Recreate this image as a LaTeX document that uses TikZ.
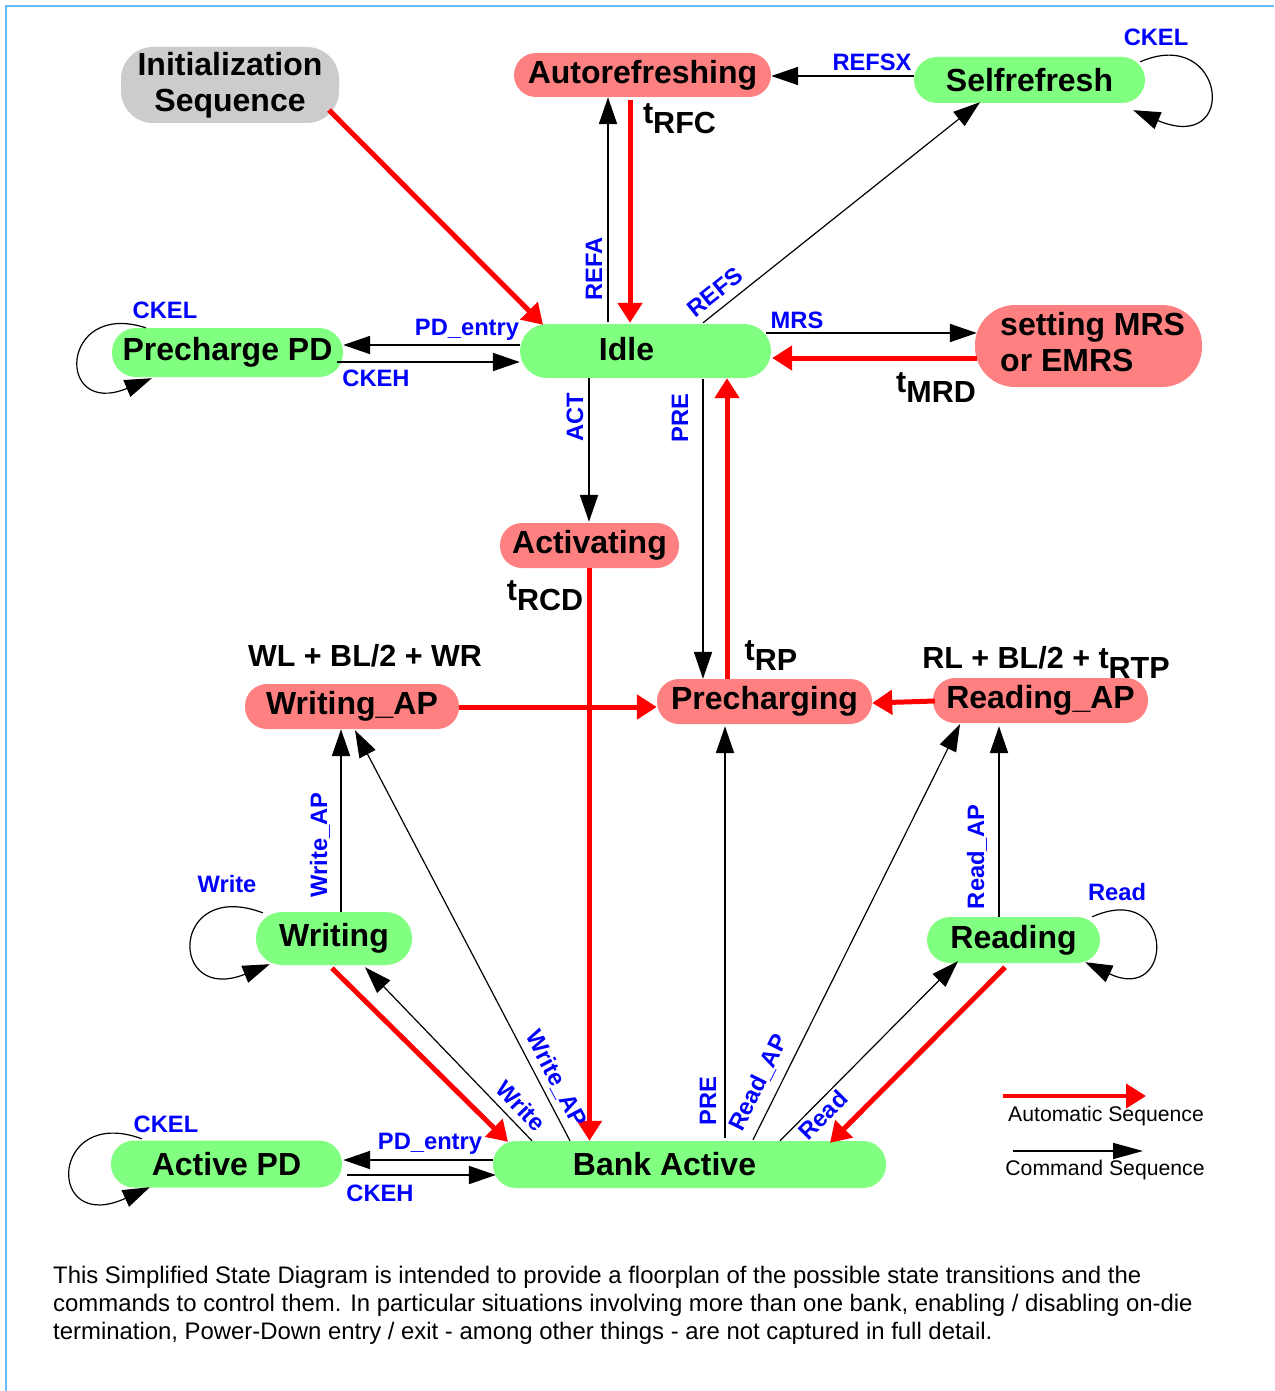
\documentclass[tikz,border=0pt]{standalone}
\usepackage{fontspec}
\setmainfont{Liberation Sans}
\usetikzlibrary{arrows.meta}
\definecolor{stgreen}{HTML}{80FF80}
\definecolor{stpink}{HTML}{FF8080}
\definecolor{stgray}{HTML}{CCCCCC}
\definecolor{frameblue}{HTML}{66BBFF}
\begin{document}
\begin{tikzpicture}[x=1pt,y=-1pt,
  box/.style={inner sep=0pt, font=\bfseries\fontsize{32}{36}\selectfont, align=center},
  grn/.style={box, fill=stgreen},
  pnk/.style={box, fill=stpink},
  gry/.style={box, fill=stgray},
  title/.style={inner sep=0pt, font=\bfseries\fontsize{32}{36}\selectfont},
  lbl/.style={inner sep=0pt, font=\bfseries\fontsize{23.7}{26}\selectfont, text=blue},
  tim/.style={inner sep=0pt, font=\bfseries\fontsize{30.5}{34}\selectfont},
  cmd/.style={line width=2pt, -{Triangle[length=27pt,width=18pt]}},
  cmdthin/.style={line width=1.2pt, -{Triangle[length=27pt,width=18pt]}},
  autoseq/.style={draw=red, line width=5pt, -{Triangle[length=20pt,width=24pt]}},
  legtxt/.style={inner sep=0pt, font=\fontsize{21.2}{25}\selectfont}
]
\useasboundingbox (0,0) rectangle (1274,1391);
\draw[frameblue, line width=1.2pt] (6,1391) -- (6,6) -- (1274,6);

% nodes
\node[gry, minimum width=218pt, minimum height=76pt, rounded corners=32pt] (init) at (230,85) {Initialization\\Sequence};
\node[pnk, minimum width=257pt, minimum height=44pt, rounded corners=22pt] (auto) at (642.5,75) {Autorefreshing};
\node[grn, minimum width=231pt, minimum height=46pt, rounded corners=23pt] (self) at (1029.5,80) {Selfrefresh};
\node[grn, minimum width=231pt, minimum height=49pt, rounded corners=24pt] (ppd) at (227.5,352.5) {Precharge PD};
\node[grn, minimum width=251pt, minimum height=54pt, rounded corners=27pt] (idle) at (645.5,351) {};
\node[title] at ([shift={(-19,-2)}]idle.center) {Idle};
\node[pnk, minimum width=227pt, minimum height=82pt, rounded corners=40pt] (mrs) at (1088.5,346) {};
\node[title, anchor=west, align=left] at (1000,342) {setting MRS\\or EMRS};
\node[pnk, minimum width=179pt, minimum height=45pt, rounded corners=22pt] (act) at (589.5,545.5) {Activating};
\node[pnk, minimum width=214pt, minimum height=45pt, rounded corners=22pt] (wap) at (352,706.5) {Writing\_AP};
\node[pnk, minimum width=215pt, minimum height=45pt, rounded corners=22pt] (pchg) at (764.5,701.5) {Precharging};
\node[pnk, minimum width=215pt, minimum height=45pt, rounded corners=22pt] (rap) at (1040.5,700.5) {Reading\_AP};
\node[grn, minimum width=156pt, minimum height=53pt, rounded corners=26pt] (wr) at (334,938.5) {Writing};
\node[grn, minimum width=173pt, minimum height=46pt, rounded corners=23pt] (rd) at (1013.5,940) {Reading};
\node[grn, minimum width=231pt, minimum height=47pt, rounded corners=23pt] (apd) at (226.5,1164) {Active PD};
\node[grn, minimum width=393pt, minimum height=47pt, rounded corners=23pt] (bank) at (689.5,1164.5) {};
\node[title] at ([shift={(-25,0)}]bank.center) {Bank Active};

% connectors
\draw[autoseq] ([shift={(99,25)}]init.center) -- ([shift={(-102.5,1)}]idle.north);
\draw[cmd] ([shift={(-37.5,-2)}]idle.north) -- ([shift={(-34.5,0)}]auto.south);
\node[lbl, rotate=90] at (594,269) {REFA};
\draw[autoseq] ([shift={(-12.5,3)}]auto.south) -- ([shift={(-15.5,-1)}]idle.north);
\node[tim] at (679.5,119) {t\raisebox{-10pt}{RFC}};
\draw[cmd] ([shift={(0,-4)}]self.west) -- ([shift={(0,1)}]auto.east);
\node[lbl] at (872,62) {REFSX};
\draw[cmdthin] ([shift={(57.5,-1)}]idle.north) -- ([shift={(-49.5,-1)}]self.south);
\node[lbl, rotate=38.6] at (715,292) {REFS};
\draw[cmdthin] ([shift={(-5,5)}]self.north east) .. controls +(85,-37) and +(107,45) .. ([shift={(-12,7)}]self.south east);
\node[lbl] at (1156,37) {CKEL};

\draw[cmd] ([shift={(0,-6)}]idle.west) -- ([shift={(0,-7.5)}]ppd.east);
\node[lbl] at (467,330) {PD\_entry};
\draw[cmd] ([shift={(-6,9.5)}]ppd.east) -- ([shift={(0,11)}]idle.west);
\node[lbl] at (376,378) {CKEH};
\draw[cmdthin] ([shift={(34,0)}]ppd.north west) .. controls +(-86,-28) and +(-97,40) .. ([shift={(40,1)}]ppd.south west);
\node[lbl] at (165,310) {CKEL};

\draw[cmd] ([shift={(-5,-18)}]idle.east) -- ([shift={(2,-13)}]mrs.west);
\node[lbl] at (797,320) {MRS};
\draw[autoseq] ([shift={(2,12)}]mrs.west) -- ([shift={(1,7)}]idle.east);
\node[tim] at (936,388) {t\raisebox{-10pt}{MRD}};

\draw[cmd] ([shift={(-56.5,0)}]idle.south) -- ([shift={(-0.5,-1)}]act.north);
\node[lbl, rotate=90] at (575,417) {ACT};
\draw[cmd] ([shift={(57.5,1)}]idle.south) -- ([shift={(-61.5,0)}]pchg.north);
\node[lbl, rotate=90] at (680,418) {PRE};
\draw[autoseq] ([shift={(-37.5,0)}]pchg.north) -- ([shift={(81.5,0)}]idle.south);
\node[tim] at (771,656) {t\raisebox{-10pt}{RP}};
\draw[autoseq] (act.south) -- ([shift={(-100,0)}]bank.north);
\node[tim] at (545,596) {t\raisebox{-10pt}{RCD}};

\draw[autoseq] ([shift={(0,0.5)}]wap.east) -- ([shift={(0,5.5)}]pchg.west);
\draw[autoseq] ([shift={(2,0.5)}]rap.west) -- ([shift={(0,1.5)}]pchg.east);
\node[tim] at (365,656) {WL + BL/2 + WR};
\node[tim] at (1046,662) {RL + BL/2 + t\raisebox{-10pt}{RTP}};

\draw[cmd] ([shift={(7,0)}]wr.north) -- ([shift={(-11,0)}]wap.south);
\node[lbl, rotate=90] at (320,845) {Write\_AP};
\draw[cmdthin] ([shift={(-119.5,0)}]bank.north) -- ([shift={(3,1)}]wap.south);
\node[lbl, rotate=-62.4] at (556,1079) {Write\_AP};
\draw[cmdthin] ([shift={(-157.5,0)}]bank.north) -- ([shift={(31,2)}]wr.south);
\node[lbl, rotate=-46.2] at (521,1106) {Write};
\draw[autoseq] ([shift={(-2,3)}]wr.south) -- ([shift={(-181.5,1)}]bank.north);
\draw[cmdthin] ([shift={(7,1)}]wr.north west) .. controls +(-93,-35) and +(-102,41) .. ([shift={(14,-1)}]wr.south west);
\node[lbl] at (227,884) {Write};

\draw[cmd] ([shift={(35.5,-3)}]bank.north) -- ([shift={(-39.5,2)}]pchg.south);
\node[lbl, rotate=90] at (708,1101) {PRE};
\draw[cmdthin] ([shift={(63.5,-1)}]bank.north) -- ([shift={(-80.5,1)}]rap.south);
\node[lbl, rotate=63.5] at (759,1083) {Read\_AP};
\draw[cmdthin] ([shift={(90.5,0)}]bank.north) -- ([shift={(-55.5,-2)}]rd.south);
\node[lbl, rotate=45.3] at (823,1115) {Read};
\draw[autoseq] ([shift={(-8.5,4)}]rd.south) -- ([shift={(140.5,2)}]bank.north);
\draw[cmd] ([shift={(-14.5,0)}]rd.north) -- ([shift={(-41.5,3)}]rap.south);
\node[lbl, rotate=90] at (977,857) {Read\_AP};
\draw[cmdthin] ([shift={(-8,0)}]rd.north east) .. controls +(83,-37) and +(90,43) .. ([shift={(-15,-1)}]rd.south east);
\node[lbl] at (1117,892) {Read};

\draw[cmd] ([shift={(0,-4.5)}]bank.west) -- ([shift={(1,-4)}]apd.east);
\node[lbl] at (430,1144) {PD\_entry};
\draw[cmd] ([shift={(5,11)}]apd.east) -- ([shift={(3,10.5)}]bank.west);
\node[lbl] at (380,1193) {CKEH};
\draw[cmdthin] ([shift={(31,-1.5)}]apd.north west) .. controls +(-92,-34) and +(-105,48) .. ([shift={(39,-0.5)}]apd.south west);
\node[lbl] at (166,1124) {CKEL};

% legend
\coordinate (la1) at (1003,1096);
\coordinate (la2) at (1146,1096);
\coordinate (lc1) at (1013,1151);
\coordinate (lc2) at (1143,1151);
\draw[autoseq, line width=4pt] (la1) -- (la2);
\node[legtxt] at (1106,1116) {Automatic Sequence};
\draw[line width=1.5pt, -{Triangle[length=30pt,width=16pt]}] (lc1) -- (lc2);
\node[legtxt] at (1105,1170) {Command Sequence};

% footer
\node[anchor=north west, align=left, inner sep=0pt, font=\fontsize{23.9}{28}\selectfont] at (53,1266)
{This Simplified State Diagram is intended to provide a floorplan of the possible state transitions and the\\
commands to control them. In particular situations involving more than one bank, enabling / disabling on-die\\
termination, Power-Down entry / exit - among other things - are not captured in full detail.};
\end{tikzpicture}
\end{document}
